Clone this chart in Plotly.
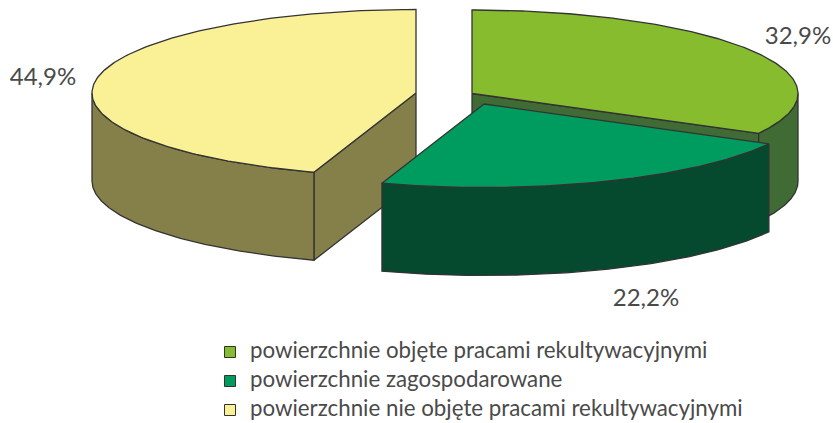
import numpy as np
import plotly.graph_objects as go

categories = ["powierzchnie objęte pracami rekultywacyjnymi",
              "powierzchnie zagospodarowane",
              "powierzchnie nie objęte pracami rekultywacyjnymi"]
values = [32.9, 22.2, 44.9]
labels = ["32,9%", "22,2%", "44,9%"]
top_colors = ["#86BC2E", "#009B5F", "#FAF096"]
side_colors = ["#406B35", "#054A2F", "#858049"]

W, H = 833, 423
radii = [326, 324, 324]
RY, DEPTH = 83.5, 88
centers = [(472, 93.5), (484, 104), (416, 93)]
label_pos = [(798, 38), (646, 300), (43, 79)]
legend_y = [352, 381, 410]
FONT = "Lato, sans-serif"
INK = "#333333"

fig = go.Figure()
edges = np.cumsum([0] + values) / sum(values) * 2 * np.pi

def pt(i, t):
    t = np.asarray(t)
    c = centers[i]
    return c[0] + radii[i] * np.sin(t), c[1] - RY * np.cos(t)

def poly(x, y, color):
    fig.add_trace(go.Scatter(x=list(x) + [x[0]], y=list(y) + [y[0]], mode="lines", fill="toself",
                             fillcolor=color, line=dict(color=INK, width=1.3),
                             showlegend=False, hoverinfo="skip"))

def slab(i, inner_edges):
    c = centers[i]
    a, b = edges[i], edges[i + 1]
    for e in inner_edges:
        ex, ey = pt(i, e)
        poly([c[0], ex, ex, c[0]], [c[1], ey, ey + DEPTH, c[1] + DEPTH], side_colors[i])
    lo, hi = max(a, np.pi / 2), min(b, 3 * np.pi / 2)
    if lo < hi:
        t = np.linspace(lo, hi, 120)
        x, y = pt(i, t)
        poly(np.r_[x, x[::-1]], np.r_[y, y[::-1] + DEPTH], side_colors[i])
    t = np.linspace(a, b, 200)
    x, y = pt(i, t)
    poly(np.r_[c[0], x], np.r_[c[1], y], top_colors[i])

slab(0, [edges[1]])
slab(2, [edges[2]])
slab(1, [])

fig.add_trace(go.Scatter(x=[p[0] for p in label_pos], y=[p[1] for p in label_pos],
                         mode="text", text=labels, textposition="middle center",
                         textfont=dict(family=FONT, size=24, color="#4A4A4A"),
                         showlegend=False, hoverinfo="skip"))
for i, name in enumerate(categories):
    fig.add_trace(go.Scatter(x=[230], y=[legend_y[i]], mode="markers",
                             marker=dict(symbol="square", size=11, color=top_colors[i],
                                         line=dict(color=INK, width=1)),
                             showlegend=False, hoverinfo="skip"))
    fig.add_trace(go.Scatter(x=[250], y=[legend_y[i]], mode="text", text=[name],
                             textposition="middle right",
                             textfont=dict(family=FONT, size=22.3, color="#4A4A4A"),
                             showlegend=False, hoverinfo="skip"))

fig.update_layout(width=W, height=H, margin=dict(l=0, r=0, t=0, b=0),
                  paper_bgcolor="white", plot_bgcolor="white",
                  xaxis=dict(range=[0, W], visible=False, fixedrange=True),
                  yaxis=dict(range=[H, 0], visible=False, fixedrange=True))
fig.write_html("out.html", config=dict(displayModeBar=False),
               post_script="document.body.style.margin='0';document.documentElement.style.overflow='hidden';")
